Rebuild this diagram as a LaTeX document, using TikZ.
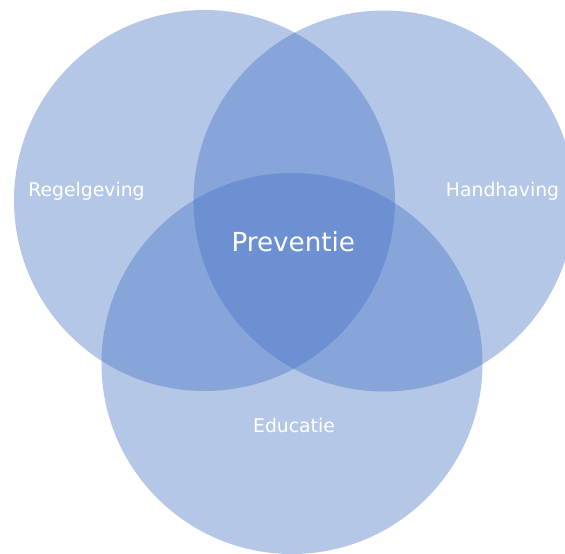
\documentclass[tikz,border=0pt]{standalone}
\usepackage{fontspec}
\setmainfont{DejaVu Sans}
\definecolor{vennblue}{HTML}{4472C4}
\tikzset{
	venn/.style={circle, fill=vennblue, fill opacity=0.4, minimum size=381pt, inner sep=0pt},
	vlabel/.style={text=white, anchor=base, font=\fontsize{18.8}{21}\selectfont},
	vcentre/.style={vlabel, font=\fontsize{26.2}{30}\selectfont},
}

\begin{document}
\begin{tikzpicture}[x=1pt, y=-1pt]
	\useasboundingbox (0,0) rectangle (565,554);

	%% CIRCLES
	\node[venn](regel) at (204.5,200.5){};
	\node[venn](handh) at (384,201){};
	\node[venn](educ) at (292,363.5){};

	%% LABELS
	\node[vlabel](regel_txt) at (86.5,196){Regelgeving};
	\node[vlabel](handh_txt) at (502.5,196.7){Handhaving};
	\node[vlabel](educ_txt) at (294,432){Educatie};
	\node[vcentre](prev_txt) at (293.3,251){Preventie};

\end{tikzpicture}
\end{document}
